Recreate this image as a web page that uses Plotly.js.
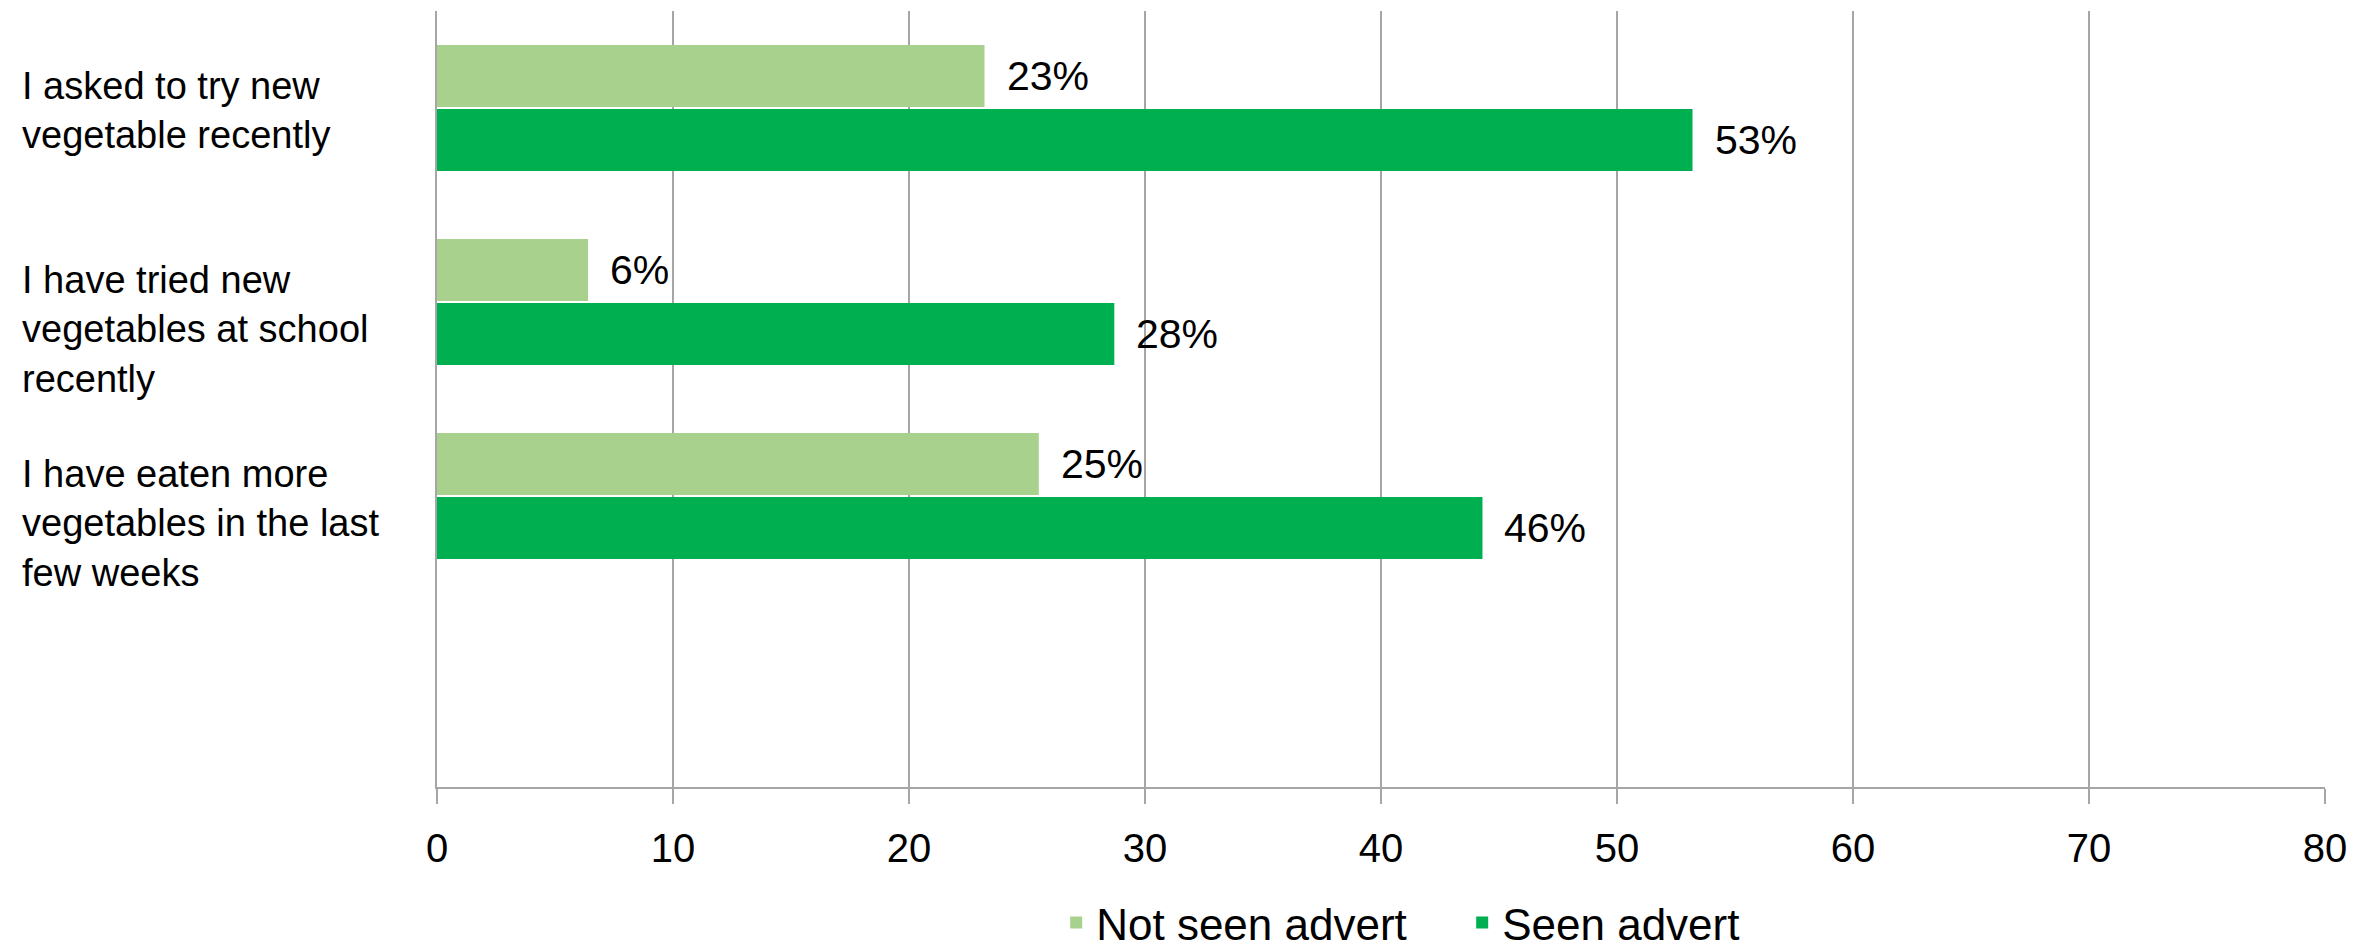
<!DOCTYPE html>
<html>
<head>
<meta charset="utf-8">
<script src="https://cdn.plot.ly/plotly-3.0.1.min.js"></script>
<style>
  html, body { margin: 0; padding: 0; background: #ffffff; }
  #chart { width: 2357px; height: 950px; }
</style>
</head>
<body>
<div id="chart"></div>
<script>
// ---- data ----
const categories = [
  "I asked to try new<br>vegetable recently",
  "I have tried new<br>vegetables at school<br>recently",
  "I have eaten more<br>vegetables in the last<br>few weeks"
];
const notSeenValues = [23.2, 6.4, 25.5];
const seenValues = [53.2, 28.7, 44.3];
const notSeenLabels = ["23%", "6%", "25%"];
const seenLabels = ["53%", "28%", "46%"];
const seriesNames = ["Not seen advert", "Seen advert"];
const xTickValues = [0, 10, 20, 30, 40, 50, 60, 70, 80];

// ---- style ----
const FONT = "Liberation Sans, Arial, sans-serif";
const lightGreen = "#A9D18E";
const darkGreen = "#00B050";
const gridGrey = "#a6a6a6";
const BARGAP = 0.34;
const slotOffset = (1 - BARGAP) / 4;

const traces = [
  {
    type: "bar", orientation: "h", name: seriesNames[0],
    y: categories, x: notSeenValues,
    marker: { color: lightGreen },
    hoverinfo: "skip"
  },
  {
    type: "bar", orientation: "h", name: seriesNames[1],
    y: categories, x: seenValues,
    marker: { color: darkGreen },
    hoverinfo: "skip"
  }
];

const annotations = [];
// category labels (left-aligned, multi-line)
categories.forEach((c, i) => {
  annotations.push({
    xref: "paper", yref: "y", x: -0.2208, y: i,
    xanchor: "left", yanchor: "top", align: "left", yshift: 45,
    text: c, showarrow: false,
    font: { family: FONT, size: 38, color: "#000000" }
  });
});
// data labels
[[notSeenValues, notSeenLabels, -slotOffset], [seenValues, seenLabels, slotOffset]].forEach(([vals, labs, off]) => {
  vals.forEach((v, i) => {
    annotations.push({
      xref: "x", yref: "y", x: v, y: i + off,
      xanchor: "left", yanchor: "middle", xshift: 20,
      text: labs[i], showarrow: false,
      font: { family: FONT, size: 41, color: "#000000" }
    });
  });
});

const layout = {
  width: 2357, height: 950,
  margin: { l: 437, r: 32, t: 11, b: 163, pad: 0, autoexpand: false },
  paper_bgcolor: "#ffffff", plot_bgcolor: "#ffffff",
  barmode: "group", bargap: BARGAP, bargroupgap: 0.03,
  font: { family: FONT, color: "#000000" },
  showlegend: true,
  legend: {
    orientation: "h", x: 0.543, xanchor: "center", y: -0.175, yanchor: "middle",
    font: { family: FONT, size: 44, color: "#000000" },
    traceorder: "normal", itemwidth: 30,
    entrywidth: 361, entrywidthmode: "pixels"
  },
  xaxis: {
    range: [0, 80], tickmode: "array", tickvals: xTickValues,
    ticktext: xTickValues.map(String),
    showgrid: true, gridcolor: gridGrey, gridwidth: 2,
    zeroline: false,
    showline: true, linecolor: gridGrey, linewidth: 2,
    ticks: "outside", ticklen: 15, tickcolor: gridGrey, tickwidth: 2,
    ticklabelstandoff: 10,
    tickfont: { family: FONT, size: 40, color: "#000000" },
    layer: "below traces",
    fixedrange: true
  },
  yaxis: {
    type: "category", range: [3.5, -0.5],
    showgrid: false, showticklabels: false, ticks: "",
    zeroline: false, showline: true, linecolor: gridGrey, linewidth: 2,
    layer: "below traces",
    fixedrange: true
  },
  annotations: annotations
};

Plotly.newPlot("chart", traces, layout, { staticPlot: true, displayModeBar: false });
</script>
</body>
</html>
